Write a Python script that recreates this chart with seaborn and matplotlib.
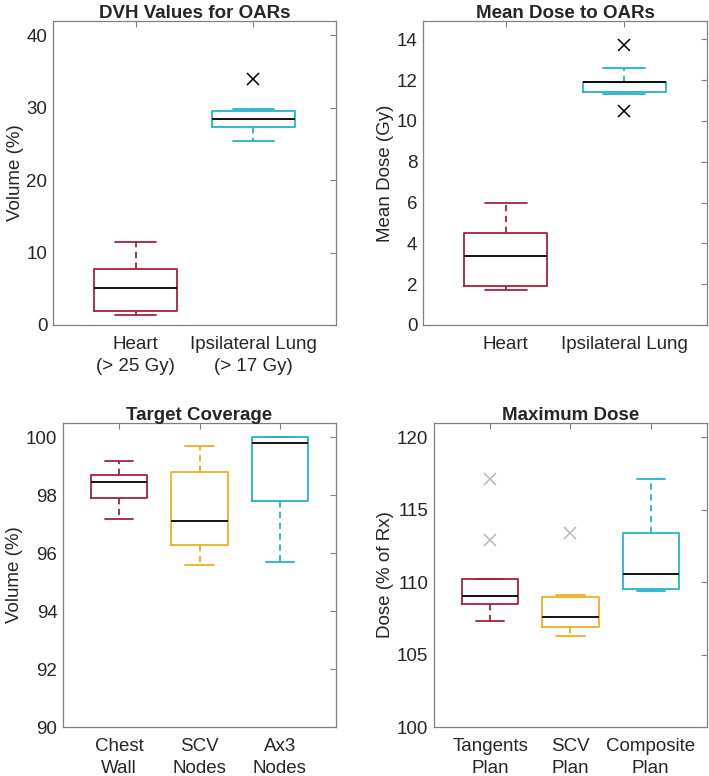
import pandas as pd
import matplotlib
matplotlib.use("Agg")
import matplotlib.pyplot as plt
import seaborn as sns

# values (9 samples per group so quartiles land on points)
oar_labels = ["Heart\n(> 25 Gy)", "Ipsilateral Lung\n(> 17 Gy)"]
dvh_heart = [1.4, 1.6, 1.9, 3.5, 5.1, 6.4, 7.7, 9.5, 11.4]
dvh_lung = [25.4, 26.8, 27.4, 28.0, 28.5, 29.0, 29.5, 29.8, 34.0]

mean_labels = ["Heart", "Ipsilateral Lung"]
mean_heart = [1.7, 1.8, 1.9, 2.7, 3.4, 4.0, 4.5, 5.2, 6.0]
mean_lung = [10.5, 11.3, 11.4, 11.6, 11.9, 11.9, 11.9, 12.6, 13.7]

target_labels = ["Chest\nWall", "SCV\nNodes", "Ax3\nNodes"]
cov_chest = [97.2, 97.6, 97.9, 98.2, 98.45, 98.6, 98.7, 98.9, 99.2]
cov_scv = [95.6, 96.0, 96.3, 96.7, 97.1, 98.0, 98.8, 99.3, 99.7]
cov_ax3 = [95.7, 96.8, 97.8, 98.9, 99.8, 99.9, 100.0, 100.0, 100.0]

max_labels = ["Tangents\nPlan", "SCV\nPlan", "Composite\nPlan"]
max_tang = [107.3, 107.9, 108.5, 108.8, 109.05, 109.6, 110.2, 112.9, 117.1]
max_scv = [106.3, 106.6, 106.9, 107.2, 107.6, 108.3, 109.0, 109.1, 113.4]
max_comp = [109.4, 109.45, 109.5, 110.0, 110.55, 112.0, 113.4, 115.0, 117.1]

red = "#A8203F"
yellow = "#EDB120"
cyan = "#25B3CB"

sns.set_style("white")
plt.rcParams["font.family"] = ["Liberation Sans", "DejaVu Sans"]
plt.rcParams["text.color"] = "#262626"

fs = 13.5

fig = plt.figure(figsize=(7.09, 7.76), dpi=100)
axes = [
    fig.add_axes([0.0748, 0.5812, 0.399, 0.3918]),
    fig.add_axes([0.5966, 0.5812, 0.4006, 0.3918]),
    fig.add_axes([0.0889, 0.0631, 0.385, 0.3918]),
    fig.add_axes([0.6121, 0.0631, 0.385, 0.3918]),
]

panels = [
    (oar_labels, [dvh_heart, dvh_lung], [red, cyan], "DVH Values for OARs",
     "Volume (%)", (0, 42), [0, 10, 20, 30, 40], "k"),
    (mean_labels, [mean_heart, mean_lung], [red, cyan], "Mean Dose to OARs",
     "Mean Dose (Gy)", (0, 14.9), [0, 2, 4, 6, 8, 10, 12, 14], "k"),
    (target_labels, [cov_chest, cov_scv, cov_ax3], [red, yellow, cyan], "Target Coverage",
     "Volume (%)", (90, 100.5), [90, 92, 94, 96, 98, 100], "k"),
    (max_labels, [max_tang, max_scv, max_comp], [red, yellow, cyan], "Maximum Dose",
     "Dose (% of Rx)", (100, 121), [100, 105, 110, 115, 120], "#b8b8b8"),
]

for ax, (labels, groups, colors, title, ylabel, ylim, yticks, flier) in zip(axes, panels):
    rows = []
    for lab, vals in zip(labels, groups):
        for v in vals:
            rows.append({"group": lab, "value": v})
    df = pd.DataFrame(rows)
    sns.boxplot(data=df, x="group", y="value", hue="group", palette=colors,
                order=labels, hue_order=labels, fill=False, width=0.7,
                linewidth=1.3, legend=False, ax=ax,
                medianprops={"color": "black"},
                whiskerprops={"linestyle": (0, (3.5, 2.5))},
                flierprops={"marker": "x", "markeredgecolor": flier,
                            "markersize": 8, "markeredgewidth": 1.1})
    n = len(labels)
    ax.set_xlim(-0.7, n - 0.3)
    ax.set_ylim(*ylim)
    ax.set_yticks(yticks)
    ax.set_title(title, fontsize=fs, fontweight="bold", pad=2)
    ax.set_ylabel(ylabel, fontsize=fs, color="#262626", labelpad=2)
    ax.set_xlabel("")
    ax.tick_params(direction="in", length=4, width=0.8, color="#808080",
                   labelsize=fs, labelcolor="#262626", top=True, right=True,
                   pad=4)
    ax.tick_params(axis="x", pad=8)
    for t in ax.get_xticklabels():
        t.set_linespacing(1.4)
    for s in ax.spines.values():
        s.set_visible(True)
        s.set_color("#808080")
        s.set_linewidth(0.9)

fig.savefig("out.png", dpi=100)
